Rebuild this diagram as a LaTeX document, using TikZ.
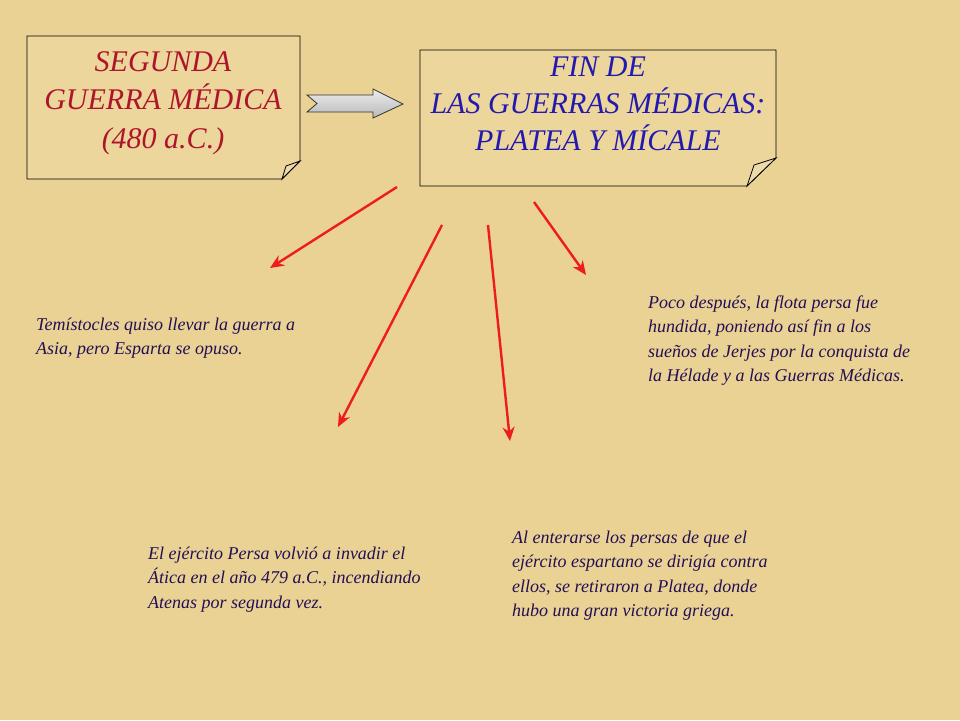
\documentclass[tikz,border=0pt]{standalone}
\usepackage{fontspec}
\setmainfont{Liberation Serif}
\usetikzlibrary{arrows.meta}
\definecolor{parch}{RGB}{233,210,148}
\definecolor{boxfill}{RGB}{236,214,155}
\definecolor{titlered}{RGB}{175,20,45}
\definecolor{titleblue}{RGB}{35,25,175}
\definecolor{bodyink}{RGB}{35,15,85}
\definecolor{arrowred}{RGB}{238,28,28}
\begin{document}
\begin{tikzpicture}[x=1pt,y=-1pt,
  titletext/.style={font=\itshape\fontsize{30}{37}\selectfont, align=center, inner sep=0pt},
  bodytext/.style={font=\itshape\fontsize{18}{24.5}\selectfont, text=bodyink, align=left, inner sep=0pt, anchor=north west},
  frame/.style={draw=black, line width=0.8pt, fill=boxfill},
  redarrow/.style={draw=arrowred, line width=2.4pt, -{Stealth[length=14pt,width=12pt]}},
]
\fill[parch] (0,0) rectangle (960,720);
\useasboundingbox (0,0) rectangle (960,720);

% box 1
\draw[frame] (27,36) -- (300,36) -- (300,161) -- (282,179) -- (27,179) -- cycle;
\draw[line width=0.8pt, fill=parch!80!white] (300,161) -- (286,166) -- (282,179) -- cycle;
\node[titletext, text=titlered, font=\itshape\fontsize{30}{38.5}\selectfont] (t1) at (163,103) {SEGUNDA\\GUERRA MÉDICA\\(480 a.C.)};

% box 2
\draw[frame] (420,50) -- (776,50) -- (776,158) -- (747,186) -- (420,186) -- cycle;
\draw[line width=0.8pt, fill=parch!80!white] (776,158) -- (754,165) -- (747,186) -- cycle;
\node[titletext, text=titleblue] (t2) at (598,104) {FIN DE\\LAS GUERRAS MÉDICAS:\\PLATEA Y MÍCALE};

% gray block arrow
\shade[top color=gray!15, bottom color=gray!55, draw=gray!40!black, line width=0.8pt]
  (307,95) -- (373,95) -- (373,89) -- (403,104) -- (373,118) -- (373,112) -- (307,112) -- (317,103.5) -- cycle;

% body texts
\node[bodytext] (p1) at (36,317.5) {Temístocles quiso llevar la guerra a\\Asia, pero Esparta se opuso.};
\node[bodytext] (p4) at (648,295.5) {Poco después, la flota persa fue\\hundida, poniendo así fin a los\\sueños de Jerjes por la conquista de\\la Hélade y a las Guerras Médicas.};
\node[bodytext] (p2) at (148,546.5) {El ejército Persa volvió a invadir el\\Ática en el año 479 a.C., incendiando\\Atenas por segunda vez.};
\node[bodytext] (p3) at (512,530.5) {Al enterarse los persas de que el\\ejército espartano se dirigía contra\\ellos, se retiraron a Platea, donde\\hubo una gran victoria griega.};

% red arrows
\coordinate (s1) at (397,187); \coordinate (e1) at (270,268);
\coordinate (s2) at (442,225); \coordinate (e2) at (338,427);
\coordinate (s3) at (488,225); \coordinate (e3) at (510,441);
\coordinate (s4) at (534,202); \coordinate (e4) at (586,275);
\draw[redarrow] (s1) -- (e1);
\draw[redarrow] (s2) -- (e2);
\draw[redarrow] (s3) -- (e3);
\draw[redarrow] (s4) -- (e4);
\end{tikzpicture}
\end{document}
